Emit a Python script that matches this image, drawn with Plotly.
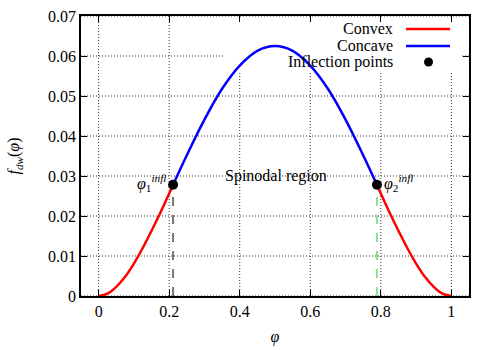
import plotly.graph_objects as go

# Values
left_phi = [0.0, 0.025, 0.05, 0.075, 0.1, 0.125, 0.15, 0.175, 0.2, 0.211]
left_f = [0.0, 0.0006, 0.0023, 0.0048, 0.0081, 0.0120, 0.0163, 0.0208, 0.0256, 0.0278]
mid_phi = [0.211, 0.25, 0.3, 0.35, 0.4, 0.45, 0.5, 0.55, 0.6, 0.65, 0.7, 0.75, 0.789]
mid_f = [0.0278, 0.0352, 0.0441, 0.0518, 0.0576, 0.0613, 0.0625, 0.0613, 0.0576, 0.0518, 0.0441, 0.0352, 0.0278]
right_phi = [0.789, 0.8, 0.825, 0.85, 0.875, 0.9, 0.925, 0.95, 0.975, 1.0]
right_f = [0.0278, 0.0256, 0.0208, 0.0163, 0.0120, 0.0081, 0.0048, 0.0023, 0.0006, 0.0]
infl_phi = [0.211, 0.789]
infl_f = [0.0278, 0.0278]
x_ticks = [0, 0.2, 0.4, 0.6, 0.8, 1]
x_labels = ["0", "0.2", "0.4", "0.6", "0.8", "1"]
y_ticks = [0, 0.01, 0.02, 0.03, 0.04, 0.05, 0.06, 0.07]
y_labels = ["0", "0.01", "0.02", "0.03", "0.04", "0.05", "0.06", "0.07"]
legend_names = ["Convex", "Concave", "Inflection points"]

FONT = "Liberation Serif, DejaVu Serif, serif"
RED = "#ff0000"
BLUE = "#0000ff"

L, R, T, B = 81, 469, 16, 296


def px_x(p):
    return (p - L) / (R - L)


def px_y(p):
    return (B - p) / (B - T)


fig = go.Figure()
fig.add_trace(go.Scatter(x=[infl_phi[0], infl_phi[0]], y=[0, infl_f[0]], mode="lines",
                         line=dict(color="#777777", width=2, dash="dash"), showlegend=False))
fig.add_trace(go.Scatter(x=[infl_phi[1], infl_phi[1]], y=[0, infl_f[1]], mode="lines",
                         line=dict(color="#66dd66", width=1.5, dash="dash"), showlegend=False))
for xs, ys, c in [(left_phi, left_f, RED), (mid_phi, mid_f, BLUE), (right_phi, right_f, RED)]:
    fig.add_trace(go.Scatter(x=xs, y=ys, mode="lines", line=dict(color=c, width=2.5, shape="spline"),
                             showlegend=False))
fig.add_trace(go.Scatter(x=infl_phi, y=infl_f, mode="markers",
                         marker=dict(color="black", size=10), showlegend=False))

tfont = dict(family=FONT, size=16, color="black")
annotations = [
    dict(x=infl_phi[0], y=infl_f[0], xref="x", yref="y", xanchor="right", yanchor="middle",
         xshift=-5, yshift=2, showarrow=False,
         text="<i>φ</i><sub>1</sub><sup><i>infl</i></sup>", font=tfont),
    dict(x=infl_phi[1], y=infl_f[1], xref="x", yref="y", xanchor="left", yanchor="middle",
         xshift=5, yshift=2, showarrow=False,
         text="<i>φ</i><sub>2</sub><sup><i>infl</i></sup>", font=tfont),
    dict(x=0.504, y=0.03, xref="x", yref="y", xanchor="center", yanchor="middle", showarrow=False,
         text="Spinodal region", font=tfont),
]
for name, py in zip(legend_names, [29, 46, 62]):
    annotations.append(dict(x=px_x(395), y=px_y(py), xref="paper", yref="paper", xanchor="right",
                            yanchor="middle", showarrow=False, text=name,
                            font=dict(family=FONT, size=16, color="black")))

shapes = []
for xv in x_ticks:
    shapes.append(dict(type="line", xref="x", yref="paper", x0=xv, x1=xv, y0=0, y1=1, layer="below",
                       line=dict(color="#333333", width=1, dash="1px,2px")))
for yv in y_ticks:
    shapes.append(dict(type="line", xref="paper", yref="y", x0=0, x1=1, y0=yv, y1=yv, layer="below",
                       line=dict(color="#333333", width=1, dash="1px,2px")))
shapes.append(dict(type="rect", xref="paper", yref="paper", x0=px_x(225), x1=px_x(462),
                   y0=px_y(72), y1=px_y(19), fillcolor="white", line=dict(width=0), layer="below"))
shapes.append(dict(type="line", xref="paper", yref="paper", x0=px_x(406), x1=px_x(450),
                   y0=px_y(29), y1=px_y(29), line=dict(color=RED, width=2.5)))
shapes.append(dict(type="line", xref="paper", yref="paper", x0=px_x(406), x1=px_x(450),
                   y0=px_y(46), y1=px_y(46), line=dict(color=BLUE, width=2.5)))
shapes.append(dict(type="circle", xref="paper", yref="paper", x0=px_x(424), x1=px_x(433),
                   y0=px_y(66.5), y1=px_y(57.5), fillcolor="black", line=dict(width=0)))

axis_common = dict(showline=True, linecolor="black", linewidth=1.5, mirror="ticks", ticks="inside",
                   ticklen=6, tickcolor="black", showgrid=False, zeroline=False, automargin=False,
                   tickfont=tfont)
fig.update_xaxes(range=[-0.05, 1.05], tickvals=x_ticks, ticktext=x_labels,
                 title=dict(text="<i>φ</i>", font=tfont, standoff=12), **axis_common)
fig.update_yaxes(range=[0, 0.07], tickvals=y_ticks, ticktext=y_labels,
                 title=dict(text="<i>f</i><sub><i>dw</i></sub>(<i>φ</i>)", font=tfont, standoff=24),
                 **axis_common)
fig.update_layout(width=500, height=350, margin=dict(l=L, r=500 - R, t=T, b=350 - B),
                  plot_bgcolor="white", paper_bgcolor="white", showlegend=False,
                  annotations=annotations, shapes=shapes, font=tfont)
fig.write_html("out.html")
